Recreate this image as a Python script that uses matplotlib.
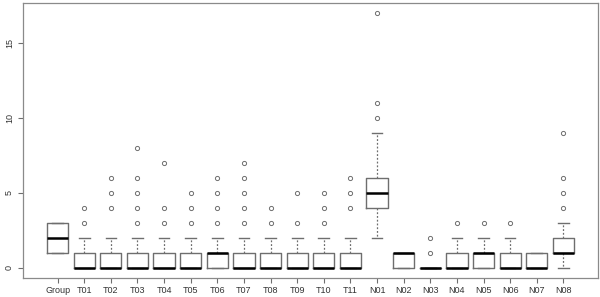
import numpy as np
import matplotlib.pyplot as plt

plt.rcParams['font.family'] = ['Liberation Sans', 'DejaVu Sans']

labels = ['Group', 'T01', 'T02', 'T03', 'T04', 'T05', 'T06', 'T07', 'T08', 'T09', 'T10',
          'T11', 'N01', 'N02', 'N03', 'N04', 'N05', 'N06', 'N07', 'N08']
q1 = [1, 0, 0, 0, 0, 0, 0, 0, 0, 0, 0, 0, 4, 0, 0, 0, 0, 0, 0, 1]
med = [2, 0, 0, 0, 0, 0, 1, 0, 0, 0, 0, 0, 5, 1, 0, 0, 1, 0, 0, 1]
q3 = [3, 1, 1, 1, 1, 1, 1, 1, 1, 1, 1, 1, 6, 1, 0, 1, 1, 1, 1, 2]
whislo = [1, 0, 0, 0, 0, 0, 0, 0, 0, 0, 0, 0, 2, 0, 0, 0, 0, 0, 0, 0]
whishi = [3, 2, 2, 2, 2, 2, 2, 2, 2, 2, 2, 2, 9, 1, 0, 2, 2, 2, 1, 3]
outliers = [[], [3, 4], [4, 5, 6], [3, 4, 5, 6, 8], [3, 4, 7], [3, 4, 5], [3, 4, 5, 6],
            [3, 4, 5, 6, 7], [3, 4], [3, 5], [3, 4, 5], [4, 5, 6], [10, 11, 17], [],
            [1, 2], [3], [3], [3], [], [4, 5, 6, 9]]

stats = []
for i in range(len(labels)):
    stats.append(dict(label=labels[i], q1=q1[i], med=med[i], q3=q3[i],
                      whislo=whislo[i], whishi=whishi[i], fliers=outliers[i]))

fig = plt.figure(figsize=(6, 2.97), dpi=100)
ax = fig.add_axes([23/600, 19/297, 575/600, 275/297])

grey = '#6e6e6e'
ax.bxp(stats, positions=np.arange(1, len(labels) + 1), widths=0.8,
       boxprops=dict(color=grey, linewidth=1.0),
       medianprops=dict(color='black', linewidth=1.8),
       whiskerprops=dict(color=grey, linewidth=0.9, linestyle=(0, (1.5, 1.5))),
       capprops=dict(color=grey, linewidth=1.0),
       flierprops=dict(marker='o', markersize=3, markerfacecolor='none',
                       markeredgecolor=grey, markeredgewidth=0.7),
       capwidths=0.4)

n = len(labels)
ax.set_xlim(0.5 - 0.04 * n, n + 0.5 + 0.04 * n)
ax.set_ylim(-0.68, 17.68)
ax.set_yticks([0, 5, 10, 15])
ax.set_yticklabels(['0', '5', '10', '15'], rotation=90, va='center')
ax.set_xticks(np.arange(1, n + 1))
ax.set_xticklabels(labels)
ax.tick_params(axis='both', direction='out', length=3.5, width=0.8, color=grey,
               labelsize=6.5, labelcolor='#333333', pad=3)
ax.tick_params(axis='x', pad=2)
for s in ax.spines.values():
    s.set_color('#8a8a8a')
    s.set_linewidth(0.9)

fig.savefig('out.png', dpi=100)
